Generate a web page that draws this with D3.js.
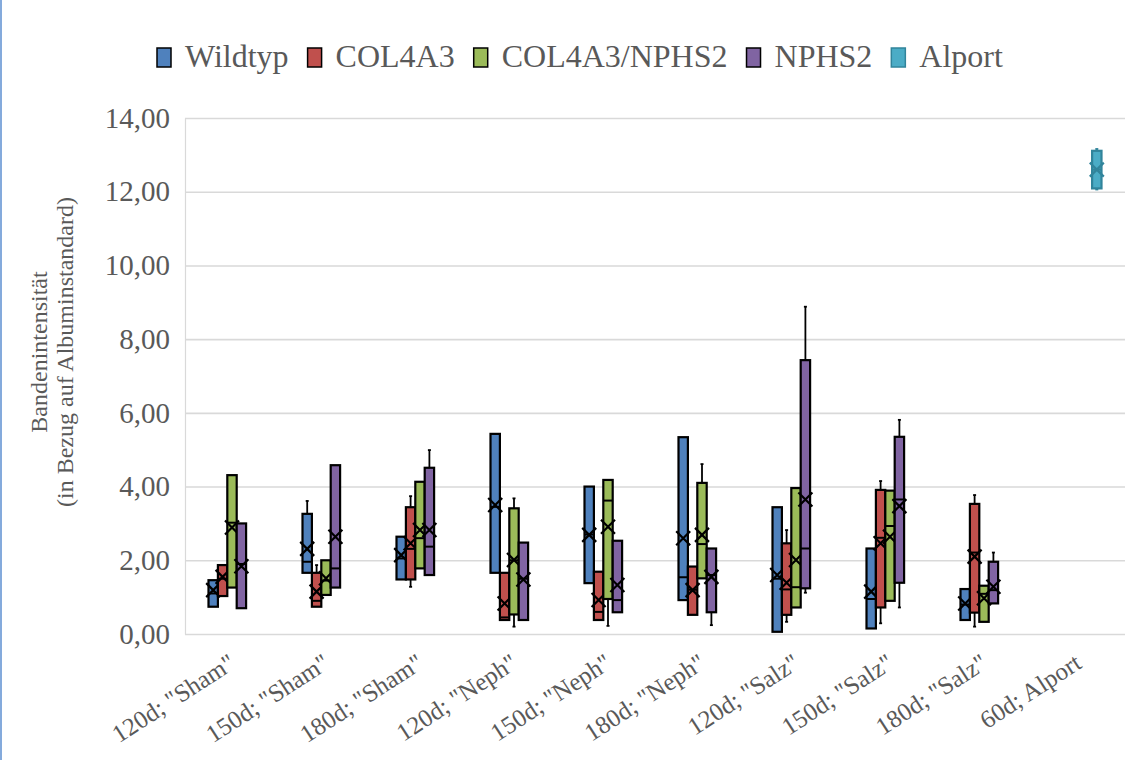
<!DOCTYPE html>
<html>
<head>
<meta charset="utf-8">
<script src="https://cdn.jsdelivr.net/npm/d3@7"></script>
<style>
  body { margin: 0; background: #fff; }
  svg { display: block; }
</style>
</head>
<body>
<svg id="chart" width="1139" height="760"></svg>
<script>
// Categories (age; treatment group) and series (genotype)
const categories = ['120d; "Sham"', '150d; "Sham"', '180d; "Sham"',
                    '120d; "Neph"', '150d; "Neph"', '180d; "Neph"',
                    '120d; "Salz"', '150d; "Salz"', '180d; "Salz"', '60d; Alport'];
const seriesNames = ["Wildtyp", "COL4A3", "COL4A3/NPHS2", "NPHS2", "Alport"];
const yTicks = [0, 2, 4, 6, 8, 10, 12, 14];

// Per category: [min, q1, median, q3, max, mean]; null = no samples
const wildtyp = [
  [0.74, 0.74, 1.10, 1.46, 1.46, 1.19],
  [1.66, 1.66, 1.96, 3.26, 3.61, 2.31],
  [1.48, 1.48, 2.05, 2.64, 2.64, 2.14],
  [1.66, 1.66, 3.45, 5.43, 5.43, 3.50],
  [1.38, 1.38, 2.70, 4.00, 4.00, 2.69],
  [0.92, 0.92, 1.54, 5.34, 5.34, 2.60],
  [0.06, 0.06, 1.50, 3.44, 3.44, 1.60],
  [0.15, 0.15, 0.95, 2.32, 2.32, 1.15],
  [0.38, 0.38, 0.80, 1.22, 1.22, 0.83],
  null
];
const col4a3 = [
  [1.03, 1.03, 1.50, 1.87, 1.87, 1.55],
  [0.74, 0.74, 0.90, 1.66, 1.87, 1.15],
  [1.28, 1.48, 2.31, 3.44, 3.74, 2.46],
  [0.38, 0.38, 0.45, 1.66, 1.66, 0.83],
  [0.38, 0.38, 0.60, 1.69, 1.69, 0.92],
  [0.52, 0.52, 1.20, 1.83, 1.83, 1.19],
  [0.33, 0.52, 1.21, 2.46, 2.82, 1.39],
  [0.29, 0.72, 2.61, 3.91, 4.15, 2.46],
  [0.20, 0.58, 2.21, 3.53, 3.77, 2.10],
  null
];
const col4a3Nphs2 = [
  [1.26, 1.26, 3.02, 4.31, 4.31, 2.89],
  [1.06, 1.06, 1.45, 2.00, 2.00, 1.51],
  [1.78, 1.78, 2.60, 4.13, 4.13, 2.82],
  [0.20, 0.53, 2.00, 3.41, 3.68, 2.01],
  [0.22, 0.95, 3.62, 4.18, 4.18, 2.91],
  [1.51, 1.51, 2.44, 4.10, 4.61, 2.69],
  [0.72, 0.72, 1.27, 3.96, 3.96, 2.01],
  [0.90, 0.90, 2.93, 3.89, 3.89, 2.64],
  [0.33, 0.33, 1.09, 1.31, 1.31, 0.97],
  null
];
const nphs2 = [
  [0.70, 0.70, 1.90, 3.00, 3.00, 1.84],
  [1.26, 1.26, 1.78, 4.58, 4.58, 2.64],
  [1.60, 1.60, 2.37, 4.51, 4.99, 2.82],
  [0.38, 0.38, 1.50, 2.48, 2.48, 1.48],
  [0.59, 0.59, 0.92, 2.53, 2.53, 1.33],
  [0.24, 0.59, 1.60, 2.32, 2.32, 1.55],
  [1.12, 1.24, 2.32, 7.43, 8.88, 3.65],
  [0.72, 1.39, 3.65, 5.35, 5.81, 3.47],
  [0.83, 0.83, 1.19, 1.96, 2.21, 1.28],
  null
];
const alport = [null, null, null, null, null, null, null, null, null,
  [12.06, 12.09, 12.60, 13.11, 13.16, 12.60]];

const seriesStats = [wildtyp, col4a3, col4a3Nphs2, nphs2, alport];

// Styling
const fills = ["#4f81bd", "#c0504d", "#9bbb59", "#8064a2", "#4bacc6"];
const outlines = ["#000", "#000", "#000", "#000", "#31849b"];
const gridColor = "#d9d9d9";
const textColor = "#595959";
const serif = '"Liberation Serif", "DejaVu Serif", serif';

const svg = d3.select("#chart");
const plot = { left: 185, right: 1125, top: 118, bottom: 634 };

const x0 = d3.scaleBand().domain(categories).range([plot.left, plot.right]);
const x1 = d3.scaleBand().domain(seriesNames).range([0, x0.bandwidth()])
  .paddingInner(0).paddingOuter(2.5);
const y = d3.scaleLinear().domain([0, 14]).range([plot.bottom, plot.top]);

// Chart frame edge
svg.append("line").attr("x1", 1).attr("x2", 1).attr("y1", 0).attr("y2", 760)
  .attr("stroke", "#5b8ed0").attr("stroke-width", 1.5);

// Y axis with gridlines
const yAxis = svg.append("g").attr("transform", `translate(${plot.left},0)`)
  .call(d3.axisLeft(y).tickValues(yTicks)
    .tickSize(-(plot.right - plot.left)).tickSizeOuter(0).tickPadding(15)
    .tickFormat(d => d3.format(".2f")(d).replace(".", ",")));
yAxis.attr("font-family", null).attr("font-size", null);
yAxis.selectAll(".tick line").attr("stroke", gridColor).attr("stroke-width", 1.6);
yAxis.select(".domain").attr("stroke", gridColor).attr("stroke-width", 1.2);
yAxis.selectAll("text").style("font-family", serif).style("font-size", "29px").attr("fill", textColor);

// X axis category labels
const xAxis = svg.append("g").attr("transform", `translate(0,${plot.bottom})`)
  .call(d3.axisBottom(x0).tickSize(0));
xAxis.attr("font-family", null).attr("font-size", null);
xAxis.select(".domain").remove();
xAxis.selectAll("text")
  .attr("x", 0).attr("y", 0).attr("dy", 0)
  .style("text-anchor", "end").style("font-family", serif).style("font-size", "25px")
  .attr("fill", textColor)
  .attr("transform", "translate(5,33) rotate(-33)");

// Y axis title (two centred lines)
const yTitle = svg.append("text")
  .attr("transform", `translate(0,352) rotate(-90)`)
  .attr("text-anchor", "middle").style("font-family", serif).style("font-size", "24px")
  .attr("fill", textColor);
yTitle.append("tspan").attr("x", 0).attr("y", 47).text("Bandenintensität");
yTitle.append("tspan").attr("x", 0).attr("y", 73).text("(in Bezug auf Albuminstandard)");

// Box plots, drawn series by series
seriesNames.forEach((name, si) => {
  const g = svg.append("g");
  const w = x1.bandwidth();
  seriesStats[si].forEach((s, ci) => {
    if (!s) return;
    const [mn, q1, med, q3, mx, mean] = s;
    const left = x0(categories[ci]) + x1(name);
    const cx = left + w / 2;
    const col = outlines[si];
    if (mx > q3) {
      g.append("line").attr("x1", cx).attr("x2", cx).attr("y1", y(q3)).attr("y2", y(mx))
        .attr("stroke", col).attr("stroke-width", 1.8);
      g.append("line").attr("x1", cx - 1.5).attr("x2", cx + 1.5).attr("y1", y(mx)).attr("y2", y(mx))
        .attr("stroke", col).attr("stroke-width", 1.8);
    }
    if (mn < q1) {
      g.append("line").attr("x1", cx).attr("x2", cx).attr("y1", y(q1)).attr("y2", y(mn))
        .attr("stroke", col).attr("stroke-width", 1.8);
      g.append("line").attr("x1", cx - 1.5).attr("x2", cx + 1.5).attr("y1", y(mn)).attr("y2", y(mn))
        .attr("stroke", col).attr("stroke-width", 1.8);
    }
    g.append("rect").attr("x", left).attr("y", y(q3))
      .attr("width", w).attr("height", y(q1) - y(q3))
      .attr("fill", fills[si]).attr("stroke", col).attr("stroke-width", 2.2);
    g.append("line").attr("x1", left).attr("x2", left + w).attr("y1", y(med)).attr("y2", y(med))
      .attr("stroke", col).attr("stroke-width", 2);
    const ym = y(mean), r = 7;
    g.append("path")
      .attr("d", `M${cx - r},${ym - r}L${cx + r},${ym + r}M${cx - r},${ym + r}L${cx + r},${ym - r}`)
      .attr("stroke", col).attr("stroke-width", 2.2).attr("fill", "none");
  });
});

// Legend
const legend = svg.append("g");
let lx = 157;
seriesNames.forEach((name, i) => {
  legend.append("rect").attr("x", lx).attr("y", 48).attr("width", 14).attr("height", 19)
    .attr("fill", fills[i]).attr("stroke", outlines[i]).attr("stroke-width", 1.5);
  const t = legend.append("text").attr("x", lx + 28).attr("y", 67)
    .style("font-family", serif).style("font-size", "32px").attr("fill", textColor)
    .text(name);
  lx += 28 + t.node().getComputedTextLength() + 19;
});
</script>
</body>
</html>
